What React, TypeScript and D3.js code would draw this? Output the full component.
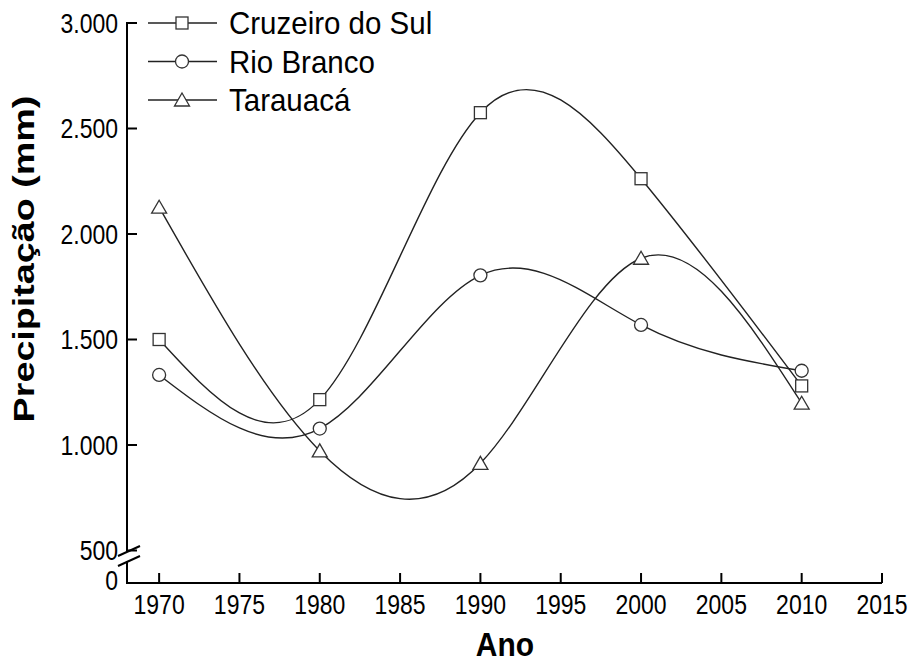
import * as d3 from "d3";

const years = [1970, 1980, 1990, 2000, 2010];
const cruzeiroDoSul = [1500, 1215, 2575, 2262, 1280];
const rioBranco = [1332, 1078, 1804, 1569, 1352];
const tarauaca = [2127, 972, 913, 1885, 1198];
const seriesNames = ["Cruzeiro do Sul", "Rio Branco", "Tarauacá"];
const seriesShapes = ["square", "circle", "triangle"];
const xTicks = [1970, 1975, 1980, 1985, 1990, 1995, 2000, 2005, 2010, 2015];
const yTicks = [500, 1000, 1500, 2000, 2500, 3000];

const width = 912;
const height = 664;
const ink = "#222";
const font = "'Liberation Sans', Arial, sans-serif";

const ptBr = d3.formatLocale({ decimal: ",", thousands: ".", grouping: [3], currency: ["R$", ""] });
const fmt = ptBr.format(",");

function Marker({ shape, x, y }: { shape: string; x: number; y: number }) {
  const common = { fill: "white", stroke: "#333", strokeWidth: 1.3 };
  if (shape === "square") return <rect x={x - 6} y={y - 6} width={12} height={12} {...common} />;
  if (shape === "circle") return <circle cx={x} cy={y} r={6.5} {...common} />;
  return <path d={`M${x},${y - 7}L${x + 7.5},${y + 6}L${x - 7.5},${y + 6}Z`} {...common} />;
}

export default function App() {
  const x = d3.scaleLinear().domain([1968, 2015]).range([127, 882]);
  const yUp = d3.scaleLinear().domain([500, 3000]).range([550.5, 23]);
  const y0 = 583;

  const series = [cruzeiroDoSul, rioBranco, tarauaca];
  const line = d3.line<number>()
    .x((_, i) => x(years[i]))
    .y(d => yUp(d))
    .curve(d3.curveNatural);

  // the reference's lettering is a bit taller than it is wide
  const k = 1.18;

  return (
    <svg width={width} height={height} style={{ position: "absolute", left: 0, top: 0, background: "white" }} fontFamily={font}>

      {/* curves */}
      {series.map((s, i) => (
        <path key={i} d={line(s) ?? ""} fill="none" stroke={ink} strokeWidth={1.4} />
      ))}
      {series.map((s, i) =>
        s.map((v, j) => <Marker key={i + "-" + j} shape={seriesShapes[i]} x={x(years[j])} y={yUp(v)} />)
      )}

      {/* axes, with the break between 0 and 500 */}
      <line x1={127} x2={882} y1={y0} y2={y0} stroke="black" strokeWidth={2} />
      <line x1={127} x2={127} y1={22} y2={551} stroke="black" strokeWidth={2} />
      <line x1={127} x2={127} y1={561} y2={y0 + 1} stroke="black" strokeWidth={2} />
      <line x1={118} y1={556} x2={140} y2={546} stroke="black" strokeWidth={2} />
      <line x1={118} y1={566} x2={140} y2={556} stroke="black" strokeWidth={2} />

      {xTicks.map(t => (
        <g key={t}>
          <line x1={x(t)} x2={x(t)} y1={y0} y2={y0 - 10} stroke="black" strokeWidth={2} />
          <text transform={`translate(${x(t)},${614}) scale(1,${k})`} textAnchor="middle" fontSize={23} fill="black">{t}</text>
        </g>
      ))}

      {yTicks.map(t => (
        <g key={t}>
          <line x1={127} x2={137} y1={yUp(t)} y2={yUp(t)} stroke="black" strokeWidth={2} />
          <text transform={`translate(118,${yUp(t)}) scale(1,${k})`} dy="0.36em" textAnchor="end" fontSize={23} fill="black">{fmt(t)}</text>
        </g>
      ))}
      <text transform={`translate(118,${y0 - 3}) scale(1,${k})`} dy="0.36em" textAnchor="end" fontSize={23} fill="black">0</text>

      {/* axis titles */}
      <text transform={`translate(505,656) scale(1,1.12)`} textAnchor="middle" fontSize={30} fontWeight="bold" fill="black">Ano</text>
      <text transform={`translate(34,259) scale(1,1.3) rotate(-90)`} textAnchor="middle" fontSize={29} fontWeight="bold" fill="black">Precipitação (mm)</text>

      {/* legend */}
      {seriesNames.map((name, i) => {
        const ly = 23 + i * 38.5;
        return (
          <g key={name}>
            <line x1={148} x2={217} y1={ly} y2={ly} stroke={ink} strokeWidth={1.4} />
            <Marker shape={seriesShapes[i]} x={182} y={ly} />
            <text transform={`translate(229,${ly}) scale(1,1.05)`} dy="0.36em" fontSize={29.5} fill="black">{name}</text>
          </g>
        );
      })}
    </svg>
  );
}
